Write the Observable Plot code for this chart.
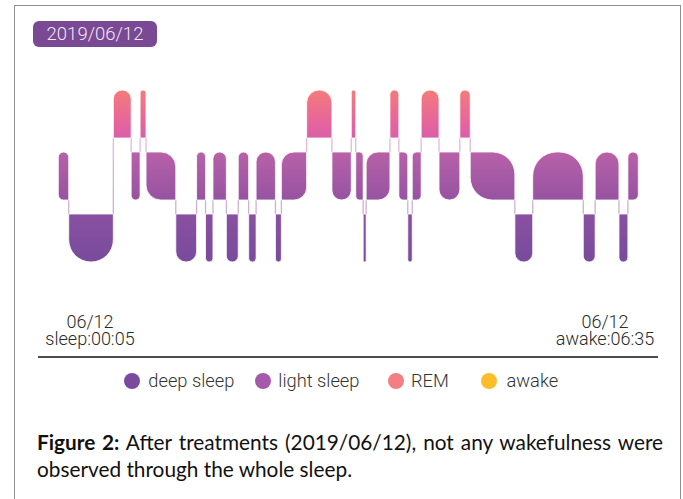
<!DOCTYPE html>
<html>
<head>
<meta charset="utf-8">
<script src="https://cdn.jsdelivr.net/npm/d3@7"></script>
<script src="https://cdn.jsdelivr.net/npm/@observablehq/plot@0.6"></script>
<style>
  html, body { margin: 0; padding: 0; background: #fff; }
  #page { position: relative; width: 683px; height: 499px; overflow: hidden; background: #fff; font-family: Roboto, "Liberation Sans", sans-serif; }
  .frame { position: absolute; left: 14px; top: 5px; width: 667px; height: 540px; box-sizing: border-box; border: 1.5px solid #8f8f8f; }
  .badge { position: absolute; left: 33px; top: 21px; width: 124px; height: 26px; border-radius: 6px; background: #7a4993; color: #efe6f3; font-size: 18.5px; font-weight: 300; line-height: 26px; text-align: center; }
  #chart { position: absolute; left: 0; top: 60px; }
  .lbl { position: absolute; width: 140px; height: 17px; text-align: center; font-size: 18px; font-weight: 300; line-height: 17px; color: #2a2a2a; white-space: nowrap; }
  .rule { position: absolute; left: 38px; top: 355.5px; width: 620px; height: 2px; background: #4d4d4d; }
  .leg { position: absolute; top: 371px; height: 20px; }
  .leg .dot { position: absolute; top: 2px; width: 16px; height: 16px; border-radius: 50%; }
  .leg .txt { position: absolute; top: 0; white-space: nowrap; font-size: 18.3px; font-weight: 300; line-height: 20px; color: #333; }
  .caption { position: absolute; left: 37px; top: 429px; width: 626px; font-family: Lato, "Open Sans", sans-serif; font-size: 20.8px; line-height: 26.5px; color: #111; }
  .caption div { white-space: nowrap; }
</style>
</head>
<body>
<div id="page">
  <div class="frame"></div>
  <div class="badge" id="badge"></div>
  <div id="chart"></div>
  <div class="lbl" id="lblL1" style="left:20px; top:312.5px;"></div>
  <div class="lbl" id="lblL2" style="left:20px; top:330px;"></div>
  <div class="lbl" id="lblR1" style="left:535px; top:312.5px;"></div>
  <div class="lbl" id="lblR2" style="left:535px; top:330px;"></div>
  <div class="rule"></div>
  <div id="legend"></div>
  <div class="caption" id="caption"></div>
</div>
<script>
// ---------------- data ----------------
const recordDate = "2019/06/12";
const dayLabel = "06/12";
const sleepStartLabel = "sleep:00:05";
const wakeLabel = "awake:06:35";

// start time of each sleep stage segment (clock time)
const stageStarts = [
  "00:05","00:12","00:42","00:54","01:00","01:04","01:24","01:38","01:44","01:49",
  "01:58","02:06","02:13","02:18","02:31","02:35","02:52","03:09","03:22","03:25",
  "03:30","03:32","03:48","03:54","04:00","04:03","04:09","04:21","04:35","04:42",
  "05:12","05:24","05:58","06:06","06:22","06:28"
];
// stage of each segment
const stageNames = [
  "light","deep","REM","light","REM","light","deep","light","deep","light",
  "deep","light","deep","light","deep","light","REM","light","REM","light",
  "deep","light","REM","light","deep","light","REM","light","REM","light",
  "deep","light","deep","light","deep","light"
];
const sleepEnd = "06:35";

// stages from top to bottom
const stageOrder = ["awake", "REM", "light", "deep"];

const legendLabels = ["deep sleep", "light sleep", "REM", "awake"];

const captionBold = "Figure 2:";
const captionLine1 = " After treatments (2019/06/12), not any wakefulness were";
const captionLine2 = "observed through the whole sleep.";

// ---------------- styles / layout ----------------
const legendColors = ["#7a4a9e", "#a459ab", "#f17f83", "#fbbd2a"];
const legendDotX = [123.5, 255, 387.5, 481];
const legendTextX = [148.3, 278.3, 411, 506.5];

const toMin = s => { const [h, m] = s.split(":").map(Number); return h * 60 + m; };

const segments = stageStarts.map((t, i) => ({
  stage: stageNames[i],
  start: toMin(t),
  end: toMin(i + 1 < stageStarts.length ? stageStarts[i + 1] : sleepEnd)
}));

const level = s => stageOrder.length - stageOrder.indexOf(s); // higher = upper

function roundedPath(x, y, w, h, tl, tr, br, bl) {
  return `M${x + tl},${y}H${x + w - tr}` +
    (tr ? `A${tr},${tr} 0 0 1 ${x + w},${y + tr}` : "") +
    `V${y + h - br}` +
    (br ? `A${br},${br} 0 0 1 ${x + w - br},${y + h}` : "") +
    `H${x + bl}` +
    (bl ? `A${bl},${bl} 0 0 1 ${x},${y + h - bl}` : "") +
    `V${y + tl}` +
    (tl ? `A${tl},${tl} 0 0 1 ${x + tl},${y}` : "") + "Z";
}

const NS = "http://www.w3.org/2000/svg";

const chart = Plot.plot({
  width: 683,
  height: 230,
  marginLeft: 58.3,
  marginRight: 44.7,
  marginTop: 0,
  marginBottom: 0,
  x: { domain: [toMin(stageStarts[0]), toMin(sleepEnd)], axis: null },
  y: { domain: stageOrder, range: [-34, 204], paddingInner: 0.22, paddingOuter: 0, axis: null },
  marks: [
    Plot.barX(segments, {
      x1: "start",
      x2: "end",
      y: "stage",
      fill: "url(#sleepGrad)",
      stroke: "white",
      strokeWidth: 0.8,
      render(index, scales, values, dimensions, context, next) {
        const g = next(index, scales, values, dimensions, context);
        const rects = Array.from(g.querySelectorAll("rect"));
        const boxes = rects.map(r => ({
          x: +r.getAttribute("x"), y: +r.getAttribute("y"),
          w: +r.getAttribute("width"), h: +r.getAttribute("height")
        }));
        const lv = Array.from(index, i => level(segments[i].stage));
        // connectors between consecutive stages
        const conn = document.createElementNS(NS, "g");
        for (let k = 0; k + 1 < boxes.length; k++) {
          const a = boxes[k], b = boxes[k + 1];
          const upper = lv[k] > lv[k + 1] ? a : b;
          const lower = upper === a ? b : a;
          const xx = a.x + a.w;
          const line = document.createElementNS(NS, "line");
          line.setAttribute("x1", xx); line.setAttribute("x2", xx);
          line.setAttribute("y1", upper.y + upper.h);
          line.setAttribute("y2", lower.y);
          line.setAttribute("stroke", "url(#sleepGrad)");
          line.setAttribute("stroke-width", 1.3);
          line.setAttribute("stroke-opacity", 0.45);
          conn.appendChild(line);
        }
        g.insertBefore(conn, g.firstChild);
        rects.forEach((r, k) => {
          const { x, y, w, h } = boxes[k];
          const rad = Math.min(w / 2, h / 2);
          const prev = k > 0 ? lv[k - 1] : null;
          const nxt = k + 1 < boxes.length ? lv[k + 1] : null;
          const tl = prev !== null && prev > lv[k] ? 0 : rad;
          const bl = prev !== null && prev < lv[k] ? 0 : rad;
          const tr = nxt !== null && nxt > lv[k] ? 0 : rad;
          const br = nxt !== null && nxt < lv[k] ? 0 : rad;
          const p = document.createElementNS(NS, "path");
          p.setAttribute("d", roundedPath(x, y, w, h, tl, tr, br, bl));
          r.replaceWith(p);
        });
        return g;
      }
    })
  ]
});

// gradient (user space, spanning the REM..deep bands)
const defs = document.createElementNS(NS, "defs");
defs.innerHTML = `<linearGradient id="sleepGrad" gradientUnits="userSpaceOnUse" x1="0" y1="29" x2="0" y2="204">
  <stop offset="0" stop-color="#f47c78"/>
  <stop offset="0.2" stop-color="#e5649e"/>
  <stop offset="0.28" stop-color="#d95fa8"/>
  <stop offset="0.36" stop-color="#b861a8"/>
  <stop offset="0.64" stop-color="#9553a1"/>
  <stop offset="0.71" stop-color="#8a50a0"/>
  <stop offset="1" stop-color="#774b9d"/>
</linearGradient>`;
chart.insertBefore(defs, chart.firstChild);
document.getElementById("chart").appendChild(chart);

// texts
document.getElementById("badge").textContent = recordDate;
document.getElementById("lblL1").textContent = dayLabel;
document.getElementById("lblL2").textContent = sleepStartLabel;
document.getElementById("lblR1").textContent = dayLabel;
document.getElementById("lblR2").textContent = wakeLabel;

// legend
const legend = document.getElementById("legend");
legendLabels.forEach((lab, i) => {
  const item = document.createElement("div");
  item.className = "leg";
  item.style.left = "0px";
  item.innerHTML = `<div class="dot" style="left:${legendDotX[i]}px;background:${legendColors[i]}"></div>` +
    `<div class="txt" style="left:${legendTextX[i]}px">${lab}</div>`;
  legend.appendChild(item);
});

// caption (first line justified)
const cap = document.getElementById("caption");
const l1 = document.createElement("div");
const l2 = document.createElement("div");
l2.textContent = captionLine2;
cap.appendChild(l1); cap.appendChild(l2);
const span = document.createElement("span");
span.innerHTML = `<b>${captionBold}</b>${captionLine1}`;
span.style.whiteSpace = "nowrap";
l1.appendChild(span);
const natural = span.getBoundingClientRect().width;
const nSpaces = (captionBold + captionLine1).split(" ").length - 1;
span.style.wordSpacing = ((626 - natural) / nSpaces) + "px";
</script>
</body>
</html>
